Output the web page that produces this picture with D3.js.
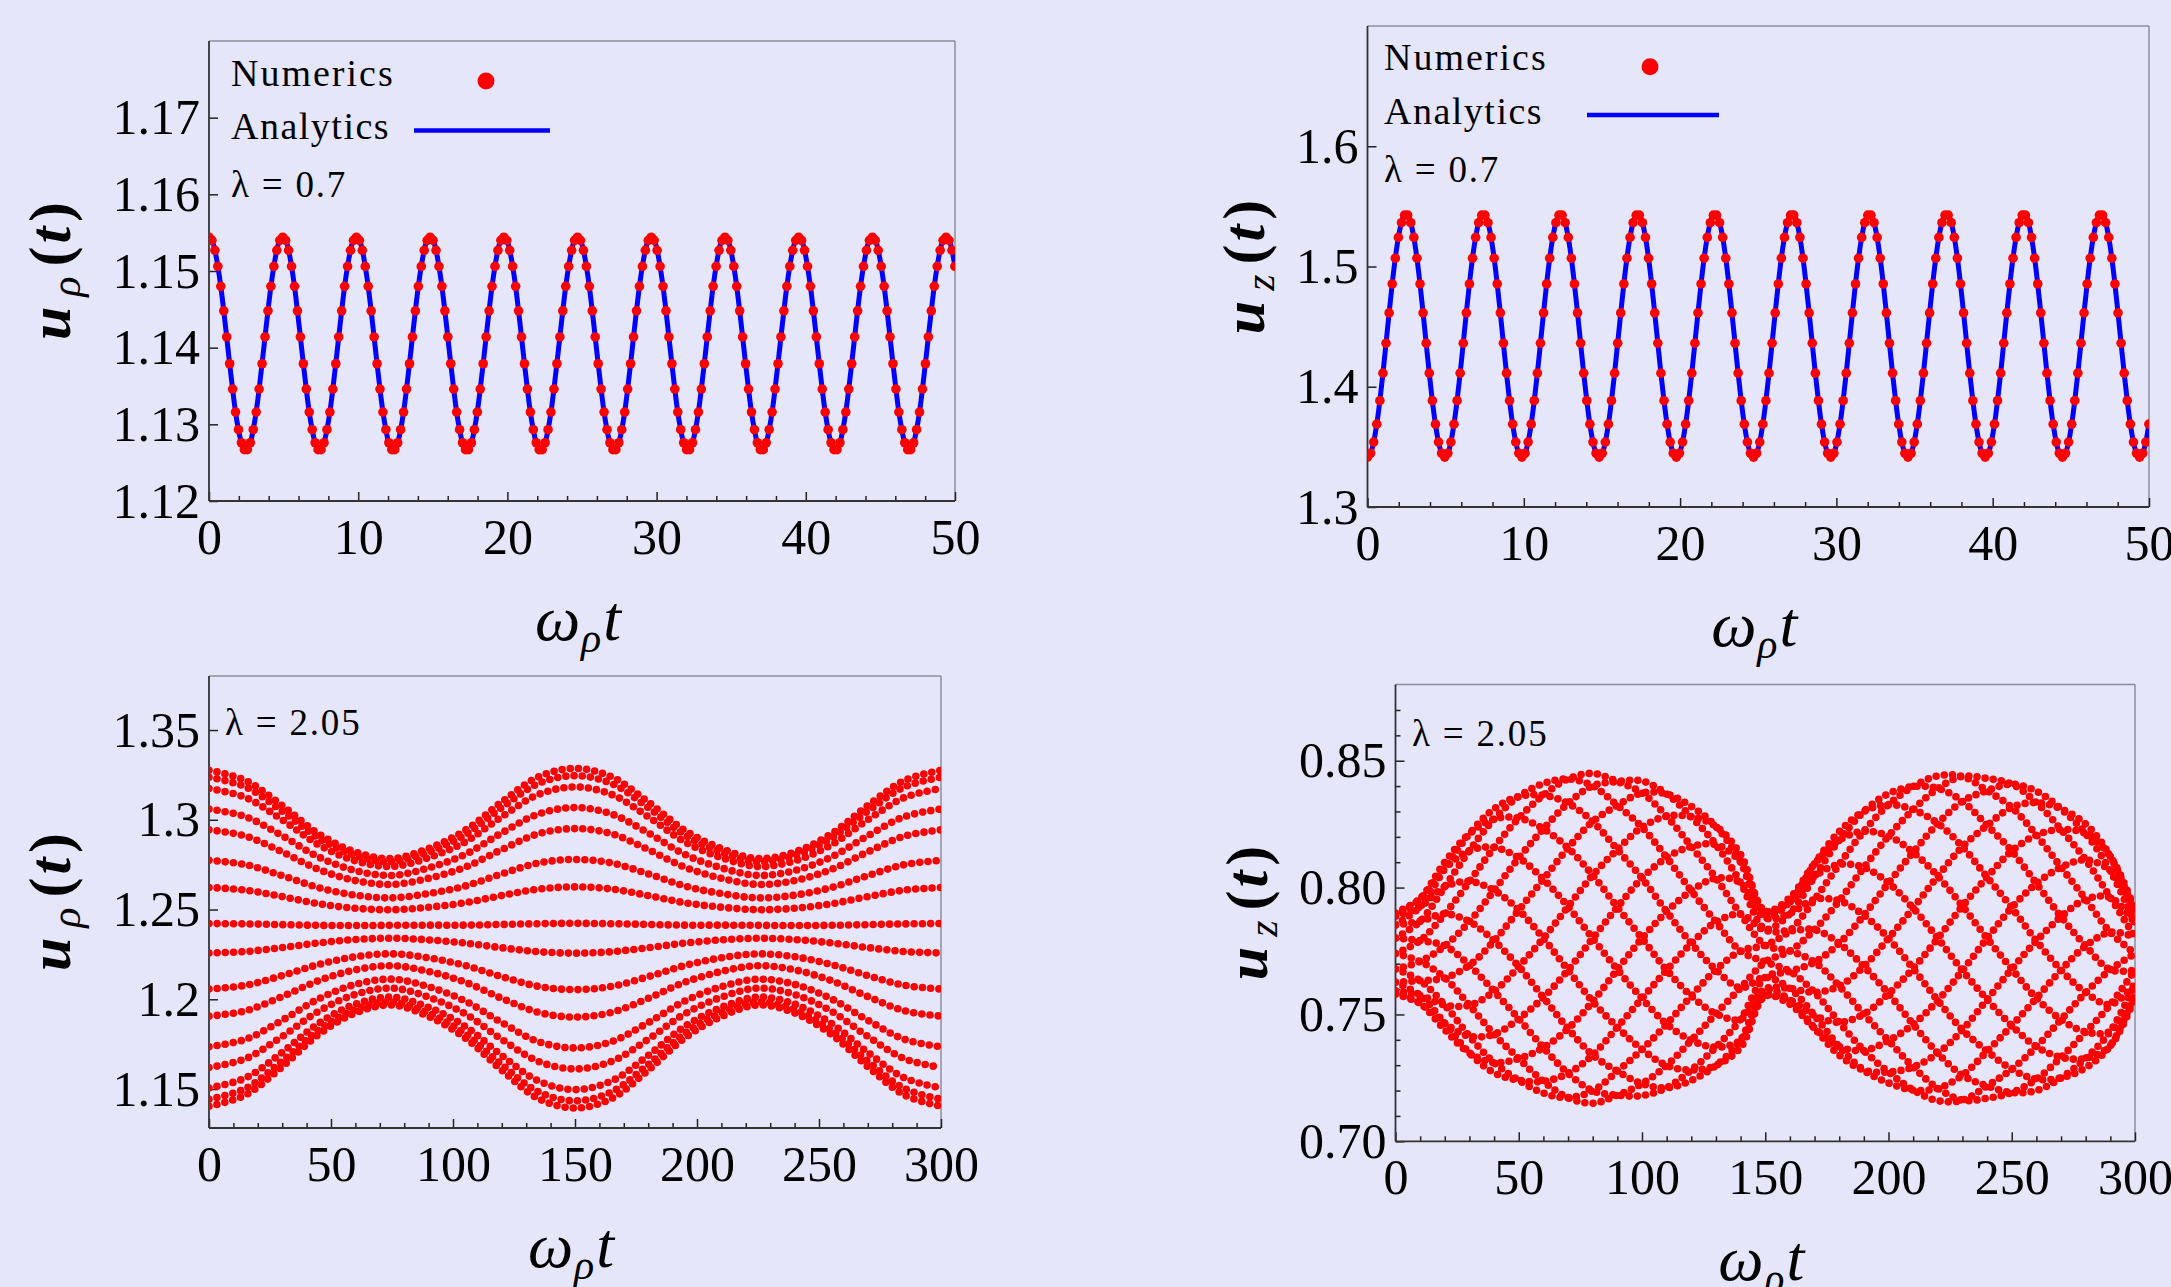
<!DOCTYPE html>
<html><head><meta charset="utf-8">
<script src="https://cdn.jsdelivr.net/npm/d3@7"></script>
<style>
html,body{margin:0;padding:0;background:#E6E6FA;}
svg{display:block;}
</style></head><body>
<svg id="chart" width="2171" height="1287"></svg>
<script>
// ---------------- DATA ----------------
// Top panels: sampled numerics, lambda = 0.7, t = i * step
const topTimeStep = 0.1976;
const tlNumerics = [
1.1544,1.1540,1.1527,1.1506,1.1480,1.1448,1.1414,1.1379,1.1346,1.1316,1.1293,1.1276,1.1267,1.1267,1.1276,1.1293,1.1316,1.1346,1.1379,1.1414,1.1448,1.1480,1.1506,1.1527,1.1540,
1.1544,1.1540,1.1527,1.1506,1.1480,1.1448,1.1414,1.1379,1.1346,1.1316,1.1293,1.1276,1.1267,1.1267,1.1276,1.1293,1.1316,1.1346,1.1379,1.1414,1.1448,1.1480,1.1506,1.1527,1.1540,
1.1544,1.1540,1.1527,1.1506,1.1480,1.1448,1.1414,1.1379,1.1346,1.1316,1.1293,1.1276,1.1267,1.1267,1.1276,1.1293,1.1316,1.1346,1.1379,1.1414,1.1448,1.1480,1.1506,1.1527,1.1540,
1.1544,1.1540,1.1527,1.1506,1.1480,1.1448,1.1414,1.1379,1.1346,1.1316,1.1293,1.1276,1.1267,1.1267,1.1276,1.1293,1.1316,1.1346,1.1379,1.1414,1.1448,1.1480,1.1506,1.1527,1.1540,
1.1544,1.1540,1.1527,1.1506,1.1480,1.1448,1.1414,1.1379,1.1346,1.1316,1.1293,1.1276,1.1267,1.1267,1.1276,1.1293,1.1316,1.1346,1.1379,1.1414,1.1448,1.1480,1.1506,1.1527,1.1540,
1.1544,1.1540,1.1527,1.1506,1.1480,1.1448,1.1414,1.1379,1.1346,1.1316,1.1293,1.1276,1.1267,1.1267,1.1276,1.1293,1.1316,1.1346,1.1379,1.1414,1.1448,1.1480,1.1506,1.1527,1.1540,
1.1544,1.1540,1.1527,1.1506,1.1480,1.1448,1.1414,1.1379,1.1346,1.1316,1.1293,1.1276,1.1267,1.1267,1.1276,1.1293,1.1316,1.1346,1.1379,1.1414,1.1448,1.1480,1.1506,1.1527,1.1540,
1.1544,1.1540,1.1527,1.1506,1.1480,1.1448,1.1414,1.1379,1.1346,1.1316,1.1293,1.1276,1.1267,1.1267,1.1276,1.1293,1.1316,1.1346,1.1379,1.1414,1.1448,1.1480,1.1506,1.1527,1.1540,
1.1544,1.1540,1.1527,1.1506,1.1480,1.1448,1.1414,1.1379,1.1346,1.1316,1.1293,1.1276,1.1267,1.1267,1.1276,1.1293,1.1316,1.1346,1.1379,1.1414,1.1448,1.1480,1.1506,1.1527,1.1540,
1.1544,1.1540,1.1527,1.1506,1.1480,1.1448,1.1414,1.1379,1.1346,1.1316,1.1293,1.1276,1.1267,1.1267,1.1276,1.1293,1.1316,1.1346,1.1379,1.1414,1.1448,1.1480,1.1506,1.1527,1.1540,
1.1544,1.1540,1.1527,1.1506];
const trNumerics = [
1.3415,1.3447,1.3540,1.3689,1.3884,1.4113,1.4362,1.4614,1.4855,1.5069,1.5242,1.5364,1.5427,1.5427,1.5364,1.5242,1.5069,1.4855,1.4614,1.4362,1.4113,1.3884,1.3689,1.3540,1.3447,
1.3415,1.3447,1.3540,1.3689,1.3884,1.4113,1.4362,1.4614,1.4855,1.5069,1.5242,1.5364,1.5427,1.5427,1.5364,1.5242,1.5069,1.4855,1.4614,1.4362,1.4113,1.3884,1.3689,1.3540,1.3447,
1.3415,1.3447,1.3540,1.3689,1.3884,1.4113,1.4362,1.4614,1.4855,1.5069,1.5242,1.5364,1.5427,1.5427,1.5364,1.5242,1.5069,1.4855,1.4614,1.4362,1.4113,1.3884,1.3689,1.3540,1.3447,
1.3415,1.3447,1.3540,1.3689,1.3884,1.4113,1.4362,1.4614,1.4855,1.5069,1.5242,1.5364,1.5427,1.5427,1.5364,1.5242,1.5069,1.4855,1.4614,1.4362,1.4113,1.3884,1.3689,1.3540,1.3447,
1.3415,1.3447,1.3540,1.3689,1.3884,1.4113,1.4362,1.4614,1.4855,1.5069,1.5242,1.5364,1.5427,1.5427,1.5364,1.5242,1.5069,1.4855,1.4614,1.4362,1.4113,1.3884,1.3689,1.3540,1.3447,
1.3415,1.3447,1.3540,1.3689,1.3884,1.4113,1.4362,1.4614,1.4855,1.5069,1.5242,1.5364,1.5427,1.5427,1.5364,1.5242,1.5069,1.4855,1.4614,1.4362,1.4113,1.3884,1.3689,1.3540,1.3447,
1.3415,1.3447,1.3540,1.3689,1.3884,1.4113,1.4362,1.4614,1.4855,1.5069,1.5242,1.5364,1.5427,1.5427,1.5364,1.5242,1.5069,1.4855,1.4614,1.4362,1.4113,1.3884,1.3689,1.3540,1.3447,
1.3415,1.3447,1.3540,1.3689,1.3884,1.4113,1.4362,1.4614,1.4855,1.5069,1.5242,1.5364,1.5427,1.5427,1.5364,1.5242,1.5069,1.4855,1.4614,1.4362,1.4113,1.3884,1.3689,1.3540,1.3447,
1.3415,1.3447,1.3540,1.3689,1.3884,1.4113,1.4362,1.4614,1.4855,1.5069,1.5242,1.5364,1.5427,1.5427,1.5364,1.5242,1.5069,1.4855,1.4614,1.4362,1.4113,1.3884,1.3689,1.3540,1.3447,
1.3415,1.3447,1.3540,1.3689,1.3884,1.4113,1.4362,1.4614,1.4855,1.5069,1.5242,1.5364,1.5427,1.5427,1.5364,1.5242,1.5069,1.4855,1.4614,1.4362,1.4113,1.3884,1.3689,1.3540,1.3447,
1.3415,1.3447,1.3540,1.3689];

// Bottom-left: strands of u_rho(t), lambda = 2.05, values at these times
const blTimes = [0,15,30,45,60,75,90,105,120,135,150,165,180,195,210,225,240,255,270,285,300];
const blStrands = [
[1.3276,1.3219,1.3079,1.2921,1.2820,1.2784,1.2840,1.2941,1.3099,1.3239,1.3286,1.3239,1.3099,1.2941,1.2840,1.2784,1.2820,1.2921,1.3079,1.3219,1.3276],
[1.3237,1.3183,1.3048,1.2897,1.2801,1.2767,1.2820,1.2916,1.3068,1.3202,1.3246,1.3202,1.3068,1.2916,1.2820,1.2767,1.2801,1.2897,1.3048,1.3183,1.3237],
[1.3174,1.3124,1.3000,1.2860,1.2771,1.2740,1.2789,1.2877,1.3017,1.3141,1.3183,1.3141,1.3017,1.2877,1.2789,1.2740,1.2771,1.2860,1.3000,1.3124,1.3174],
[1.3060,1.3017,1.2911,1.2792,1.2717,1.2690,1.2732,1.2807,1.2927,1.3032,1.3068,1.3032,1.2927,1.2807,1.2732,1.2690,1.2717,1.2792,1.2911,1.3017,1.3060],
[1.2944,1.2909,1.2821,1.2723,1.2661,1.2640,1.2674,1.2736,1.2834,1.2922,1.2951,1.2922,1.2834,1.2736,1.2674,1.2640,1.2661,1.2723,1.2821,1.2909,1.2944],
[1.2774,1.2750,1.2689,1.2622,1.2580,1.2565,1.2589,1.2631,1.2699,1.2759,1.2779,1.2759,1.2699,1.2631,1.2589,1.2565,1.2580,1.2622,1.2689,1.2750,1.2774],
[1.2623,1.2608,1.2572,1.2532,1.2507,1.2499,1.2513,1.2538,1.2578,1.2614,1.2626,1.2614,1.2578,1.2538,1.2513,1.2499,1.2507,1.2532,1.2572,1.2608,1.2623],
[1.2422,1.2420,1.2416,1.2412,1.2411,1.2412,1.2413,1.2413,1.2417,1.2421,1.2423,1.2421,1.2417,1.2413,1.2413,1.2412,1.2411,1.2412,1.2416,1.2420,1.2422],
[1.2258,1.2266,1.2288,1.2314,1.2333,1.2340,1.2331,1.2313,1.2287,1.2265,1.2257,1.2265,1.2287,1.2313,1.2331,1.2340,1.2333,1.2314,1.2288,1.2266,1.2258],
[1.2057,1.2078,1.2132,1.2194,1.2237,1.2253,1.2231,1.2188,1.2126,1.2072,1.2054,1.2072,1.2126,1.2188,1.2231,1.2253,1.2237,1.2194,1.2132,1.2078,1.2057],
[1.1906,1.1936,1.2015,1.2104,1.2164,1.2187,1.2155,1.2095,1.2005,1.1927,1.1901,1.1927,1.2005,1.2095,1.2155,1.2187,1.2164,1.2104,1.2015,1.1936,1.1906],
[1.1736,1.1777,1.1883,1.2003,1.2083,1.2112,1.2070,1.1990,1.1870,1.1764,1.1729,1.1764,1.1870,1.1990,1.2070,1.2112,1.2083,1.2003,1.1883,1.1777,1.1736],
[1.1620,1.1669,1.1793,1.1934,1.2027,1.2062,1.2012,1.1919,1.1777,1.1654,1.1612,1.1654,1.1777,1.1919,1.2012,1.2062,1.2027,1.1934,1.1793,1.1669,1.1620],
[1.1506,1.1562,1.1704,1.1866,1.1973,1.2012,1.1955,1.1849,1.1687,1.1545,1.1497,1.1545,1.1687,1.1849,1.1955,1.2012,1.1973,1.1866,1.1704,1.1562,1.1506],
[1.1443,1.1503,1.1656,1.1829,1.1943,1.1985,1.1924,1.1810,1.1636,1.1484,1.1434,1.1484,1.1636,1.1810,1.1924,1.1985,1.1943,1.1829,1.1656,1.1503,1.1443],
[1.1404,1.1467,1.1625,1.1805,1.1924,1.1968,1.1904,1.1785,1.1605,1.1447,1.1394,1.1447,1.1605,1.1785,1.1904,1.1968,1.1924,1.1805,1.1625,1.1467,1.1404]];

// Bottom-right: strands of u_z(t), lambda = 2.05, values at these times
const brTimes = [0,10,20,30,40,50,60,70,80,90,100,110,120,130,140,150,160,170,180,190,200,210,220,230,240,250,260,270,280,290,300];
const brStrands = [
[.7900,.7956,.8075,.8146,.8158,.8117,.8033,.7925,.7800,.7677,.7563,.7462,.7398,.7371,.7399,.7573,.7540,.7446,.7373,.7358,.7397,.7461,.7555,.7673,.7800,.7921,.8016,.8080,.8109,.8066,.7897],
[.7888,.7925,.8003,.8024,.7989,.7911,.7800,.7675,.7551,.7450,.7362,.7299,.7281,.7299,.7370,.7573,.7556,.7496,.7469,.7501,.7582,.7681,.7800,.7927,.8041,.8144,.8207,.8229,.8213,.8123,.7910],
[.7853,.7867,.7896,.7866,.7790,.7689,.7567,.7444,.7340,.7276,.7227,.7211,.7240,.7299,.7399,.7599,.7602,.7587,.7612,.7689,.7800,.7919,.8045,.8161,.8245,.8316,.8335,.8310,.8250,.8123,.7897],
[.7801,.7791,.7770,.7694,.7591,.7483,.7369,.7268,.7199,.7182,.7180,.7211,.7281,.7371,.7481,.7646,.7670,.7706,.7780,.7891,.8018,.8139,.8253,.8340,.8382,.8408,.8380,.8310,.8213,.8066,.7860],
[.7740,.7709,.7644,.7536,.7422,.7326,.7236,.7172,.7150,.7182,.7227,.7299,.7398,.7503,.7605,.7707,.7750,.7834,.7948,.8079,.8203,.8307,.8391,.8438,.8430,.8408,.8335,.8229,.8109,.7961,.7805],
[.7679,.7633,.7537,.7414,.7310,.7241,.7190,.7172,.7199,.7276,.7362,.7462,.7573,.7676,.7750,.7773,.7830,.7953,.8091,.8222,.8327,.8398,.8440,.8438,.8382,.8316,.8207,.8080,.7954,.7824,.7740],
[.7627,.7575,.7465,.7348,.7270,.7241,.7236,.7268,.7340,.7450,.7563,.7675,.7780,.7864,.7895,.7834,.7898,.8044,.8187,.8300,.8370,.8398,.8391,.8340,.8245,.8144,.8016,.7885,.7770,.7676,.7675],
[.7592,.7544,.7440,.7348,.7310,.7326,.7369,.7444,.7551,.7677,.7800,.7905,.7987,.8037,.8019,.7881,.7944,.8094,.8220,.8300,.8327,.8307,.8253,.8161,.8041,.7921,.7790,.7675,.7586,.7539,.7620],
[.7580,.7544,.7465,.7414,.7422,.7483,.7567,.7675,.7800,.7923,.8037,.8118,.8162,.8169,.8101,.7907,.7960,.8094,.8187,.8222,.8203,.8139,.8045,.7927,.7800,.7679,.7564,.7480,.7431,.7434,.7583],
[.7592,.7575,.7537,.7536,.7591,.7689,.7800,.7925,.8049,.8150,.8238,.8281,.8279,.8241,.8130,.7907,.7944,.8044,.8091,.8079,.8018,.7919,.7800,.7673,.7559,.7456,.7373,.7331,.7327,.7377,.7570],
[.7627,.7633,.7644,.7694,.7790,.7911,.8033,.8156,.8260,.8324,.8373,.8369,.8320,.8241,.8101,.7881,.7898,.7953,.7948,.7891,.7800,.7681,.7555,.7439,.7355,.7284,.7245,.7250,.7290,.7377,.7583],
[.7679,.7709,.7770,.7866,.7989,.8117,.8231,.8332,.8401,.8418,.8420,.8369,.8279,.8169,.8019,.7834,.7830,.7834,.7780,.7689,.7582,.7461,.7347,.7260,.7218,.7192,.7200,.7250,.7327,.7434,.7620],
[.7740,.7791,.7896,.8024,.8158,.8274,.8364,.8428,.8450,.8418,.8373,.8281,.8162,.8037,.7895,.7773,.7750,.7706,.7612,.7501,.7397,.7293,.7209,.7162,.7170,.7192,.7245,.7331,.7431,.7539,.7675],
[.7801,.7867,.8003,.8146,.8270,.8359,.8410,.8428,.8401,.8324,.8238,.8118,.7987,.7864,.7750,.7707,.7670,.7587,.7469,.7358,.7273,.7202,.7160,.7162,.7218,.7284,.7373,.7480,.7586,.7676,.7740],
[.7853,.7925,.8075,.8212,.8310,.8359,.8364,.8332,.8260,.8150,.8037,.7905,.7780,.7676,.7605,.7646,.7602,.7496,.7373,.7280,.7230,.7202,.7209,.7260,.7355,.7456,.7564,.7675,.7770,.7824,.7805],
[.7888,.7956,.8100,.8212,.8270,.8274,.8231,.8156,.8049,.7923,.7800,.7675,.7573,.7503,.7481,.7599,.7556,.7446,.7340,.7280,.7273,.7293,.7347,.7439,.7559,.7679,.7790,.7885,.7954,.7961,.7860]];

// Ticks
const tlXTicks = [0,10,20,30,40,50];
const tlYTicks = [1.12,1.13,1.14,1.15,1.16,1.17];
const tlYTickLabels = ["1.12","1.13","1.14","1.15","1.16","1.17"];
const trYTicks = [1.3,1.4,1.5,1.6];
const trYTickLabels = ["1.3","1.4","1.5","1.6"];
const blXTicks = [0,50,100,150,200,250,300];
const blYTicks = [1.15,1.2,1.25,1.3,1.35];
const blYTickLabels = ["1.15","1.2","1.25","1.3","1.35"];
const brYTicks = [0.70,0.75,0.80,0.85];
const brYTickLabels = ["0.70","0.75","0.80","0.85"];
const brYMinor = [0.71,0.72,0.73,0.74,0.76,0.77,0.78,0.79,0.81,0.82,0.83,0.84,0.86,0.87];
const shortXMinor = [2,4,6,8,12,14,16,18,22,24,26,28,32,34,36,38,42,44,46,48];
const longXMinor = [10,20,30,40,60,70,80,90,110,120,130,140,160,170,180,190,210,220,230,240,260,270,280,290];
const legendLabels = ["Numerics","Analytics"];

// ---------------- DRAWING ----------------
const FONT = '"Liberation Serif","Times New Roman",Times,serif';
const RED = '#FF0000', BLUE = '#0000FF';
const svg = d3.select('#chart');
svg.append('rect').attr('width',2171).attr('height',1287).attr('fill','#E6E6FA');

function panel(cfg){
  const x = d3.scaleLinear().domain(cfg.xDomain).range([cfg.x0,cfg.x1]);
  const y = d3.scaleLinear().domain(cfg.yDomain).range([cfg.y1,cfg.y0]);
  const g = svg.append('g');
  const clipId = 'clip-'+cfg.id;
  svg.append('clipPath').attr('id',clipId).append('rect')
    .attr('x',cfg.x0).attr('y',cfg.y0).attr('width',cfg.x1-cfg.x0).attr('height',cfg.y1-cfg.y0);
  g.append('line').attr('x1',cfg.x0).attr('x2',cfg.x1).attr('y1',cfg.y0).attr('y2',cfg.y0)
    .attr('stroke','#8c8c9c').attr('stroke-width',1.5);
  g.append('line').attr('x1',cfg.x1).attr('x2',cfg.x1).attr('y1',cfg.y0).attr('y2',cfg.y1)
    .attr('stroke','#8c8c9c').attr('stroke-width',1.5);
  const styleAxis = s => {
    s.select('.domain').remove();
    s.attr('font-family',FONT).attr('font-size',50).attr('color','#222');
    s.selectAll('line').attr('stroke-width',1.5);
    s.selectAll('text').attr('fill','#000');
  };
  g.append('g').attr('transform',`translate(0,${cfg.y1})`)
    .call(d3.axisBottom(x).tickValues(cfg.xMinor).tickSize(-5).tickFormat('')).call(styleAxis);
  g.append('g').attr('transform',`translate(0,${cfg.y1})`)
    .call(d3.axisBottom(x).tickValues(cfg.xTicks).tickSize(-9).tickPadding(17).tickFormat(d=>String(d))).call(styleAxis);
  if (cfg.yMinor) {
    g.append('g').attr('transform',`translate(${cfg.x0},0)`)
      .call(d3.axisLeft(y).tickValues(cfg.yMinor).tickSize(-5).tickFormat('')).call(styleAxis);
  }
  g.append('g').attr('transform',`translate(${cfg.x0},0)`)
    .call(d3.axisLeft(y).tickValues(cfg.yTicks).tickSize(-9).tickPadding(9)
      .tickFormat((d,i)=>cfg.yTickLabels[i])).call(styleAxis);
  g.append('line').attr('x1',cfg.x0).attr('x2',cfg.x0).attr('y1',cfg.y0).attr('y2',cfg.y1)
    .attr('stroke','#333').attr('stroke-width',1.8);
  g.append('line').attr('x1',cfg.x0).attr('x2',cfg.x1).attr('y1',cfg.y1).attr('y2',cfg.y1)
    .attr('stroke','#333').attr('stroke-width',1.8);
  // y label
  const yl = svg.append('text').attr('transform',`translate(${cfg.yLabelX},${cfg.yLabelY}) rotate(-90)`)
    .attr('text-anchor','middle').attr('font-family',FONT).attr('font-size',60).attr('fill','#000');
  yl.append('tspan').attr('font-weight','bold').attr('font-style','italic').text('u');
  yl.append('tspan').attr('font-style','italic').attr('font-size',42).attr('dx',10).attr('dy',10).text(cfg.sub);
  yl.append('tspan').attr('font-weight','bold').attr('dx',10).attr('dy',-10).text('(');
  yl.append('tspan').attr('font-weight','bold').attr('font-style','italic').attr('dx',3).text('t');
  yl.append('tspan').attr('font-weight','bold').attr('dx',5).text(')');
  // x label
  const xl = svg.append('text').attr('x',(cfg.x0+cfg.x1)/2-4).attr('y',cfg.y1+139)
    .attr('text-anchor','middle').attr('font-family',FONT).attr('font-size',64).attr('fill','#000');
  xl.append('tspan').attr('font-style','italic').text('ω');
  xl.append('tspan').attr('font-style','italic').attr('font-size',42).attr('dx',1).attr('dy',12).text('ρ');
  xl.append('tspan').attr('font-style','italic').attr('dx',2).attr('dy',-12).text('t');
  // lambda label
  svg.append('text').attr('x',cfg.lamX).attr('y',cfg.lamY).attr('font-family',FONT)
    .attr('font-size',37).attr('letter-spacing',1.8).attr('fill','#000').text(cfg.lam);
  const plot = svg.append('g').attr('clip-path',`url(#${clipId})`);
  return {x,y,plot};
}

function legend(cfg){
  svg.append('text').attr('x',cfg.tx).attr('y',cfg.ty1).attr('font-family',FONT).attr('font-size',38)
    .attr('letter-spacing',2).attr('fill','#000').text(legendLabels[0]);
  svg.append('text').attr('x',cfg.tx).attr('y',cfg.ty2).attr('font-family',FONT).attr('font-size',38)
    .attr('letter-spacing',1.5).attr('fill','#000').text(legendLabels[1]);
  svg.append('circle').attr('cx',cfg.dx).attr('cy',cfg.dy).attr('r',8.5).attr('fill',RED);
  svg.append('line').attr('x1',cfg.lx1).attr('x2',cfg.lx2).attr('y1',cfg.ly).attr('y2',cfg.ly)
    .attr('stroke',BLUE).attr('stroke-width',4.5);
}

function topSeries(p, values){
  const pts = values.map((v,i)=>[i*topTimeStep, v]);
  p.plot.append('path').datum(pts)
    .attr('d', d3.line().x(d=>p.x(d[0])).y(d=>p.y(d[1])).curve(d3.curveCatmullRom.alpha(0.5)))
    .attr('fill','none').attr('stroke',BLUE).attr('stroke-width',5);
  p.plot.selectAll('circle.num').data(pts).enter().append('circle')
    .attr('cx',d=>p.x(d[0])).attr('cy',d=>p.y(d[1])).attr('r',4.8).attr('fill',RED);
}

function strands(p, times, list){
  const line = d3.line().x((d,i)=>p.x(times[i])).y(d=>p.y(d)).curve(d3.curveCatmullRom.alpha(0.5));
  p.plot.selectAll('path.strand').data(list).enter().append('path')
    .attr('d', d=>line(d)).attr('fill','none').attr('stroke',RED)
    .attr('stroke-width',7.6).attr('stroke-linecap','round').attr('stroke-dasharray','0 8.2');
}

const pTL = panel({id:'tl', x0:209, x1:955, y0:41, y1:501, xDomain:[0,50], yDomain:[1.12,1.18],
  xTicks:tlXTicks, xMinor:shortXMinor, yTicks:tlYTicks, yTickLabels:tlYTickLabels,
  yLabelX:70, yLabelY:271, sub:'ρ', lam:'λ = 0.7', lamX:231, lamY:197});
topSeries(pTL, tlNumerics);
legend({tx:231, ty1:86, ty2:139, dx:486, dy:81, lx1:414, lx2:550, ly:130.5});

const pTR = panel({id:'tr', x0:1367.5, x1:2149, y0:26, y1:507, xDomain:[0,50], yDomain:[1.3,1.7],
  xTicks:tlXTicks, xMinor:shortXMinor, yTicks:trYTicks, yTickLabels:trYTickLabels,
  yLabelX:1264, yLabelY:267, sub:'z', lam:'λ = 0.7', lamX:1384, lamY:182});
topSeries(pTR, trNumerics);
legend({tx:1384, ty1:70, ty2:124, dx:1650, dy:66.7, lx1:1587, lx2:1719, ly:115});

const pBL = panel({id:'bl', x0:209, x1:941, y0:676, y1:1128, xDomain:[0,300], yDomain:[1.1283,1.3801],
  xTicks:blXTicks, xMinor:longXMinor, yTicks:blYTicks, yTickLabels:blYTickLabels,
  yLabelX:70, yLabelY:902, sub:'ρ', lam:'λ = 2.05', lamX:225, lamY:735});
strands(pBL, blTimes, blStrands);

const pBR = panel({id:'br', x0:1395.5, x1:2135, y0:684.6, y1:1141.3, xDomain:[0,300], yDomain:[0.70,0.88],
  xTicks:blXTicks, xMinor:longXMinor, yTicks:brYTicks, yTickLabels:brYTickLabels, yMinor:brYMinor,
  yLabelX:1267, yLabelY:913, sub:'z', lam:'λ = 2.05', lamX:1412, lamY:746});
strands(pBR, brTimes, brStrands);
</script>
</body></html>
